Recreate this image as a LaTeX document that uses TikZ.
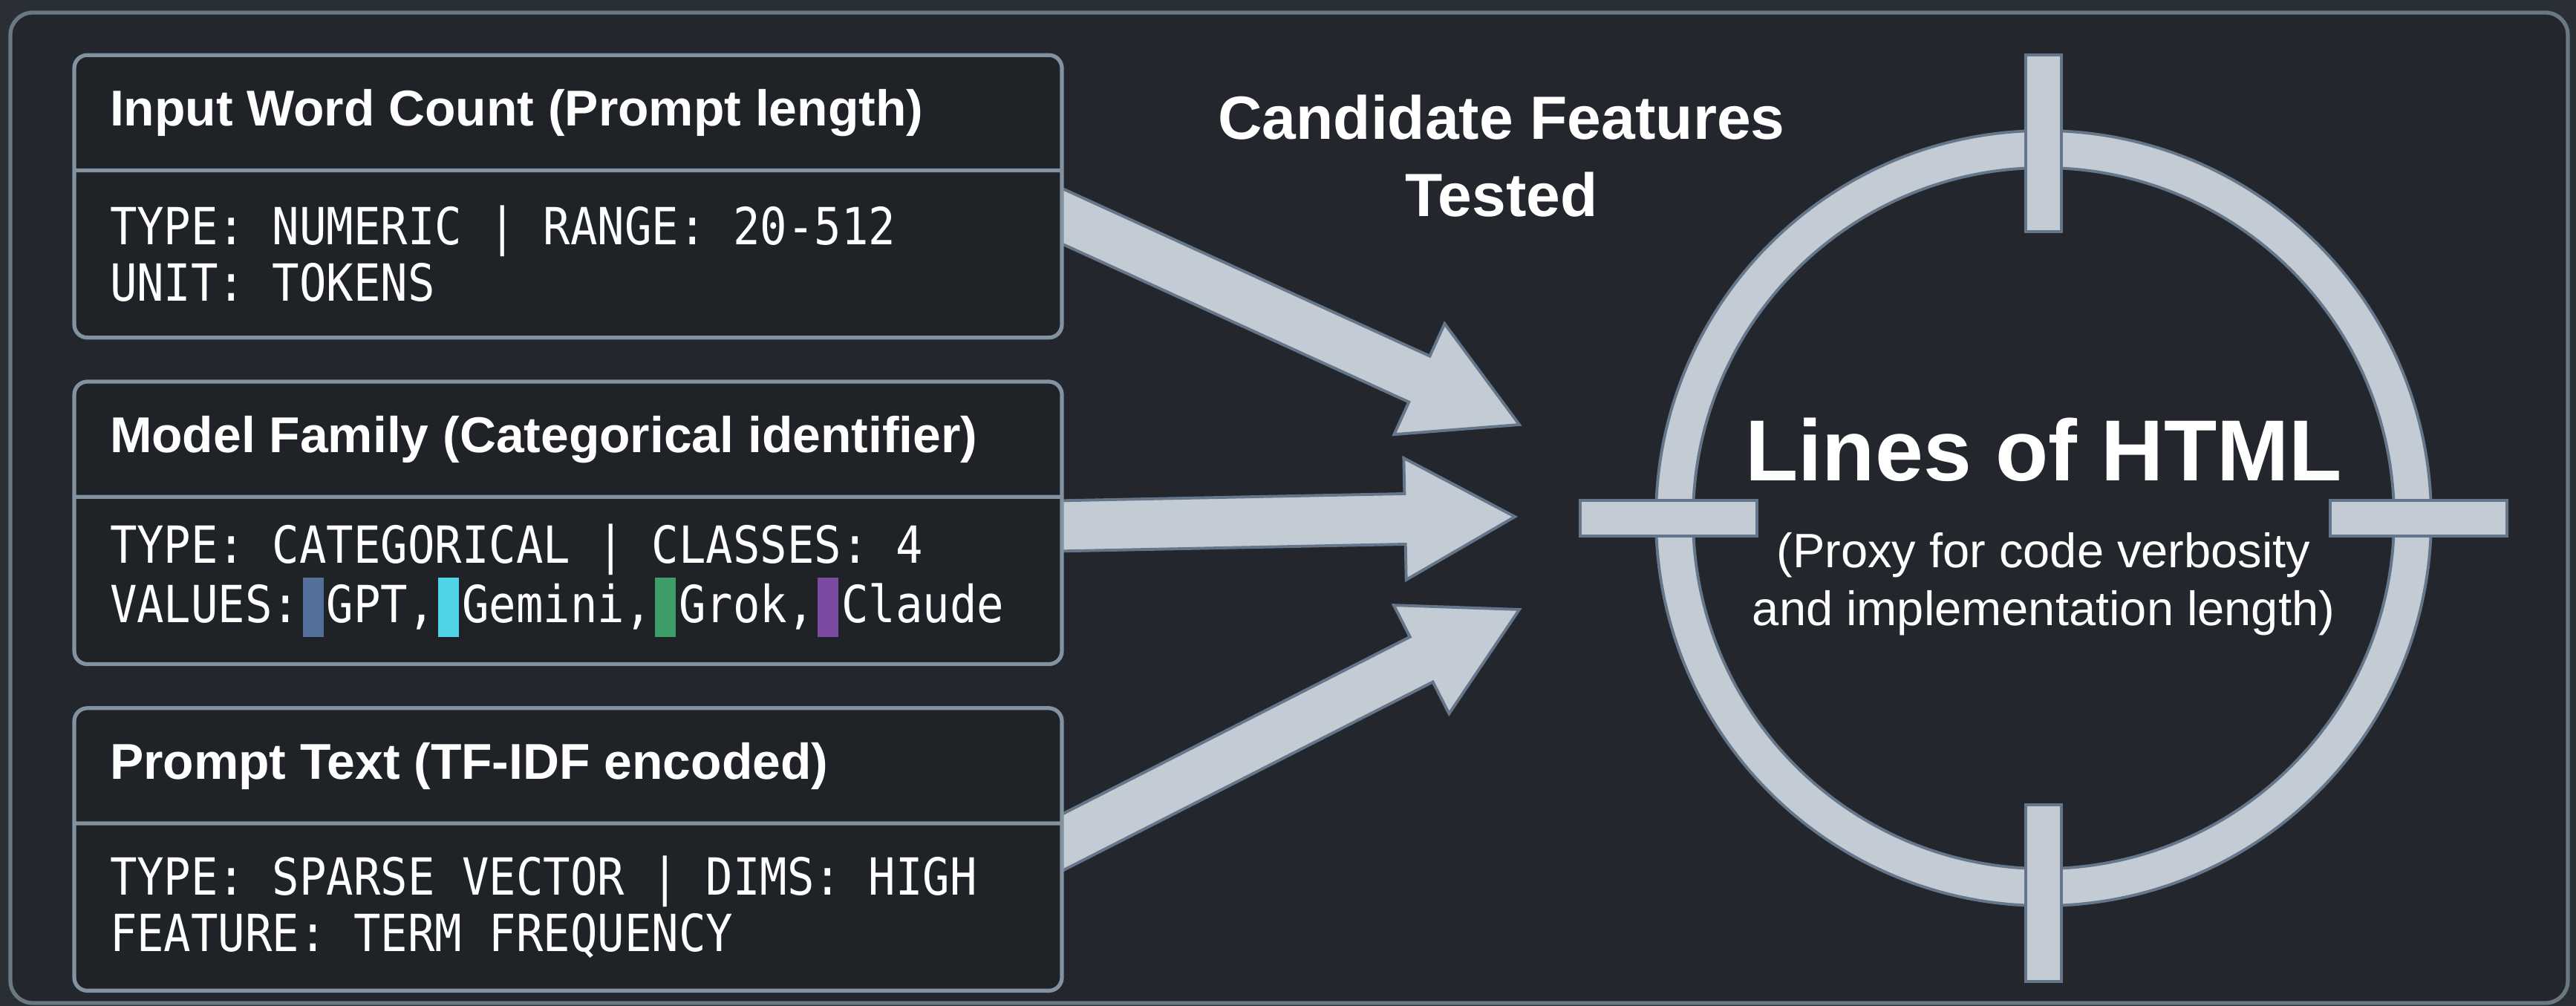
\documentclass[tikz,border=0pt]{standalone}
\usepackage{fontspec}
\setmainfont{Liberation Sans}
\newfontfamily\codefont[FakeStretch=0.88]{DejaVu Sans Mono}
\usepackage{xcolor}
\usetikzlibrary{positioning,calc,shapes.multipart}

\definecolor{pagebg}{HTML}{2A2E35}
\definecolor{panelbg}{HTML}{23272D}
\definecolor{boxfill}{HTML}{1F2328}
\definecolor{paneledge}{HTML}{6A7884}
\definecolor{boxedge}{HTML}{8392A0}
\definecolor{arrowfill}{HTML}{C3CBD4}
\definecolor{arrowedge}{HTML}{66768A}
\definecolor{gptblue}{HTML}{52709A}
\definecolor{geminicyan}{HTML}{4FD3E6}
\definecolor{grokgreen}{HTML}{3E9E68}
\definecolor{claudepurple}{HTML}{7B4AA3}

\pgfdeclarelayer{back}
\pgfdeclarelayer{arrows}
\pgfsetlayers{back,arrows,main}

\newcommand{\boxtitle}{\color{white}\fontsize{19.3pt}{23pt}\selectfont\bfseries}
\newcommand{\boxbody}{\color{white}\codefont\fontsize{19.6pt}{21.6pt}\selectfont\raggedright}
% colour chip, one character cell wide
\newcommand{\swatch}[1]{\makebox[\fontcharwd\font`0]{\textcolor{#1}{\rule[-5.7pt]{8pt}{22.8pt}}}}
% fat block arrow from #1 to #2
\newcommand{\fatarrow}[2]{%
  \coordinate (head) at ($(#2)!1.48cm!(#1)$);
  \draw[fatarrow] ($(#1)!0.34cm!90:(#2)$) -- ($(head)!0.34cm!90:(#2)$)
    -- ($(head)!0.82cm!90:(#2)$) -- (#2) -- ($(head)!0.82cm!-90:(#2)$)
    -- ($(head)!0.34cm!-90:(#2)$) -- ($(#1)!0.34cm!-90:(#2)$) -- cycle;}

\tikzset{
  featbox/.style={rectangle split, rectangle split parts=2, draw=boxedge,
    line width=1.5pt, fill=boxfill, rounded corners=5pt, inner xsep=0.48cm,
    inner ysep=0pt, text=white},
  fatarrow/.style={fill=arrowfill, draw=arrowedge, line width=1.1pt, line join=miter},
  tickbar/.style={fill=arrowfill, draw=arrowedge, line width=1.1pt}
}

\begin{document}
\begin{tikzpicture}
\useasboundingbox (0,0) rectangle (34.69,13.55);
\begin{pgfonlayer}{back}
\fill[pagebg] (0,0) rectangle (34.69,13.55);
\draw[paneledge, fill=panelbg, line width=1.5pt, rounded corners=0.3cm] (0.14,0.04) rectangle (34.58,13.38);
\end{pgfonlayer}

% feature boxes
\node[featbox] (count) at (7.65,10.905) {%
  \parbox[c][1.5cm][c]{12.34cm}{\boxtitle Input Word Count (Prompt length)}%
  \nodepart{two}\parbox[c][2.2cm][c]{12.34cm}{\boxbody TYPE: NUMERIC | RANGE: 20-512\\UNIT: TOKENS}};
\node[featbox, below=0.54cm of count] (family) {%
  \parbox[c][1.5cm][c]{12.34cm}{\boxtitle Model Family (Categorical identifier)}%
  \nodepart{two}\parbox[c][2.2cm][c]{12.34cm}{\boxbody TYPE: CATEGORICAL | CLASSES: 4\\VALUES:\swatch{gptblue}GPT,\swatch{geminicyan}Gemini,\swatch{grokgreen}Grok,\swatch{claudepurple}Claude}};
\node[featbox, below=0.54cm of family] (prompt) {%
  \parbox[c][1.5cm][c]{12.34cm}{\boxtitle Prompt Text (TF-IDF encoded)}%
  \nodepart{two}\parbox[c][2.2cm][c]{12.34cm}{\boxbody TYPE: SPARSE VECTOR | DIMS: HIGH\\FEATURE: TERM FREQUENCY}};

\node[text=white, font=\fontsize{23.4pt}{29.6pt}\selectfont\bfseries, align=center, anchor=base] (cand) at (20.22,10.63) {Candidate Features\\Tested};

% target
\coordinate (target) at (27.52,6.57);
\draw[tickbar, even odd rule] (target) circle[radius=5.22] (target) circle[radius=4.72];
\begin{scope}[shift={(target)}]
\foreach \a in {0,90,180,270}
  \draw[tickbar, rotate=\a] (3.86,-0.24) rectangle (6.24,0.24);
\end{scope}
\node[text=white, font=\fontsize{33.2pt}{40pt}\selectfont\bfseries, anchor=base] (lines) at ($(target)+(0,0.50)$) {Lines of HTML};
\node[text=white, font=\fontsize{18.5pt}{22.2pt}\selectfont, align=center, anchor=base] (proxy) at ($(target)+(0,-1.45)$) {(Proxy for code verbosity\\and implementation length)};

% arrows into the target
\coordinate (tail1) at ($(count.east)+(-0.5,-0.05)$);
\coordinate (tail2) at ($(family.east)+(-0.5,-0.05)$);
\coordinate (tail3) at ($(prompt.east)+(-0.5,-0.15)$);
\coordinate (tip1) at ($(target)+(-7.06,1.26)$);
\coordinate (tip2) at ($(target)+(-7.12,0.02)$);
\coordinate (tip3) at ($(target)+(-7.06,-1.23)$);
\begin{pgfonlayer}{arrows}
\fatarrow{tail1}{tip1}
\fatarrow{tail2}{tip2}
\fatarrow{tail3}{tip3}
\end{pgfonlayer}
\end{tikzpicture}
\end{document}
